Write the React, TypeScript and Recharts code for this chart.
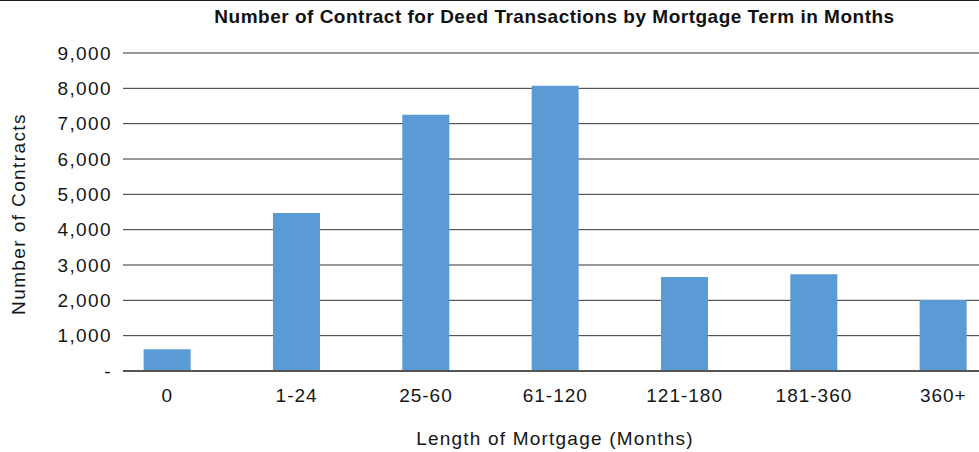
import React from 'react';
import { BarChart, Bar, XAxis, YAxis, CartesianGrid } from 'recharts';

const categories = ['0', '1-24', '25-60', '61-120', '121-180', '181-360', '360+'];
const contracts = [615, 4470, 7250, 8070, 2660, 2740, 2010];
const yTicks = [0, 1000, 2000, 3000, 4000, 5000, 6000, 7000, 8000, 9000];
const xTicks = categories.map((_, i) => i);

const chartTitle = 'Number of Contract for Deed Transactions by Mortgage Term in Months';
const xTitle = 'Length of Mortgage (Months)';
const yTitle = 'Number of Contracts';

const data = categories.map((c, i) => ({ idx: i, name: c, value: contracts[i] }));

const FONT = '"Liberation Sans", Arial, Helvetica, sans-serif';
const TEXT = '#161616';

export default function App() {
  return (
    <div style={{ position: 'absolute', left: 0, top: 0, width: 979, height: 452, background: '#fff', fontFamily: FONT, overflow: 'hidden' }}>
      <div style={{ position: 'absolute', left: 0, top: 0, width: 979, height: 1, background: '#1a1a1a' }} />
      <BarChart width={979} height={452} data={data} margin={{ top: 53, right: 0, bottom: 0, left: 0 }}>
        <CartesianGrid vertical={false} stroke="#333" strokeWidth={1} />
        <XAxis
          type="number"
          dataKey="idx"
          domain={[-0.3425, 6.276]}
          allowDataOverflow
          ticks={xTicks}
          interval={0}
          tickFormatter={(i: number) => categories[i]}
          height={81}
          tickLine={false}
          tickSize={0}
          tickMargin={18}
          axisLine={{ stroke: '#555', strokeWidth: 2 }}
          tick={{ fontSize: 19, fill: TEXT, fontFamily: FONT, letterSpacing: 1 }}
        />
        <YAxis
          type="number"
          domain={[0, 9000]}
          ticks={yTicks}
          interval={0}
          width={123}
          axisLine={false}
          tickLine={false}
          tickSize={0}
          tickMargin={11}
          tickFormatter={(v: number) => (v === 0 ? '-' : v.toLocaleString('en-US'))}
          tick={{ fontSize: 19, fill: TEXT, fontFamily: FONT, letterSpacing: 1.4 }}
        />
        <Bar dataKey="value" fill="#5B9BD5" barSize={47} isAnimationActive={false} />
      </BarChart>
      <div style={{ position: 'absolute', left: 554.5, top: 17, transform: 'translate(-50%, -50%)', whiteSpace: 'nowrap', fontSize: 19, fontWeight: 700, color: '#111', letterSpacing: 0.5 }}>
        {chartTitle}
      </div>
      <div style={{ position: 'absolute', left: 555, top: 439, transform: 'translate(-50%, -50%)', whiteSpace: 'nowrap', fontSize: 19, color: TEXT, letterSpacing: 1.2 }}>
        {xTitle}
      </div>
      <div style={{ position: 'absolute', left: 19, top: 214, transform: 'translate(-50%, -50%) rotate(-90deg)', whiteSpace: 'nowrap', fontSize: 19, color: TEXT, letterSpacing: 1.4 }}>
        {yTitle}
      </div>
    </div>
  );
}
